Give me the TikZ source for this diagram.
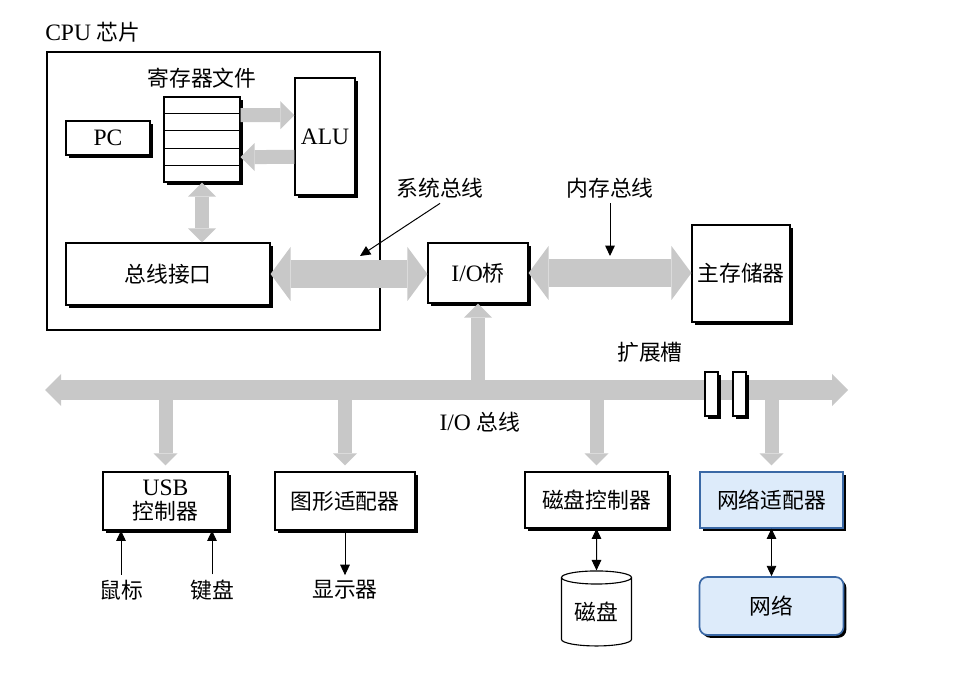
\documentclass[tikz,border=0pt]{standalone}
\usepackage{fontspec}
\setmainfont{Liberation Serif}[Scale=1.08]
\newfontfamily\cjk{Noto Sans CJK SC}
\usetikzlibrary{arrows.meta,shapes.geometric,shadows,calc}

\definecolor{busgray}{RGB}{200,200,200}
\definecolor{netfill}{RGB}{221,235,250}
\definecolor{netline}{RGB}{58,104,165}

\tikzset{
  box/.style={draw, line width=0.8pt, fill=white, inner sep=0pt,
    drop shadow={shadow xshift=0.7mm, shadow yshift=-0.7mm, fill=black, opacity=1}},
  arr/.style={line width=0.7pt, -{Triangle[length=2.6mm,width=2.4mm]}},
  darr/.style={line width=0.7pt, {Triangle[length=2.6mm,width=2.4mm]}-{Triangle[length=2.6mm,width=2.4mm]}},
  fatbus/.style={draw=busgray, line width=7mm,
    {Triangle[width=13.5mm,length=5mm,line width=0pt]}-{Triangle[width=13.5mm,length=5mm,line width=0pt]}},
  thinbus/.style={draw=busgray, line width=3.5mm,
    -{Triangle[width=7mm,length=3.5mm,line width=0pt]}},
  thinbus2/.style={draw=busgray, line width=3.5mm,
    {Triangle[width=7mm,length=3.5mm,line width=0pt]}-{Triangle[width=7mm,length=3.5mm,line width=0pt]}},
  iobus/.style={draw=busgray, line width=5mm,
    {Triangle[width=8mm,length=4mm,line width=0pt]}-{Triangle[width=8mm,length=4mm,line width=0pt]}},
  branch/.style={draw=busgray, line width=3.5mm, shorten >=1.5mm,
    -{Triangle[width=6mm,length=3mm,line width=0pt]}},
  netbox/.style={box, fill=netfill, draw=netline}
}

\begin{document}
\begin{tikzpicture}[x=0.25mm, y=-0.25mm,
  every node/.style={font=\fontsize{15.5}{18}\selectfont}]
\useasboundingbox (0,0) rectangle (973,676);

% CPU chip
\node[draw, line width=1pt, minimum width=83.25mm, minimum height=69.5mm] (cpu) at (213.5,191) {};
\node[anchor=west, inner sep=0pt] (cpulbl) at (45,32) {CPU {\cjk 芯片}};

\node (reglbl) at (202,78) {\cjk 寄存器文件};
\node[box, minimum width=19mm, minimum height=21.25mm] (reg) at (202,139.5) {};
\foreach \i in {1,...,4}
  \draw[line width=0.8pt] ($(reg.north west)!\i/5!(reg.south west)$) -- ($(reg.north east)!\i/5!(reg.south east)$);

\node[box, minimum width=21mm, minimum height=8.5mm] (pc) at (108,138) {PC};
\node[box, minimum width=15mm, minimum height=29.25mm] (alu) at (325,136.5) {ALU};
\node[box, minimum width=51mm, minimum height=15.5mm] (bi) at (168,274) {\cjk 总线接口};

\draw[thinbus] ([yshift=6.1mm]reg.east) -- ([yshift=5.3mm]alu.west);
\draw[thinbus] ([yshift=-5.1mm]alu.west) -- ([yshift=-4.4mm]reg.east);
\draw[thinbus2] (reg.south) -- (reg.south |- bi.north);

% bridge and memory
\node[box, minimum width=25mm, minimum height=15mm] (bridge) at (478,273) {I/O{\cjk 桥}};
\node[box, minimum width=24.5mm, minimum height=24.25mm] (mem) at (741,273.5) {\cjk 主存储器};

\draw[fatbus] (bi.east) -- (bi.east -| bridge.west);
\draw[fatbus] (bridge.east) -- (bridge.east -| mem.west);

\node (sb) at (440,188) {\cjk 系统总线};
\node (mb) at (610,188) {\cjk 内存总线};
\coordinate (sbtip) at (360,256);
\coordinate (mbtip) at (610,256);
\draw[arr] (sb.south) -- (sbtip);
\draw[arr] (mb.south) -- (mbtip);

% I/O bus
\coordinate (busL) at (45,390);
\coordinate (busR) at (848,390);
\coordinate (iob) at (478,390);
\draw[iobus] (busL) -- (busR);
\draw[thinbus] (iob) -- (bridge.south);

\node[box, minimum width=3.25mm, minimum height=11mm] (slot1) at (711.5,394) {};
\node[box, minimum width=3.25mm, minimum height=11mm] (slot2) at (739.5,394) {};
\node (slotlbl) at (650,352) {\cjk 扩展槽};
\node (iolbl) at (480,422) {I/O {\cjk 总线}};

% devices
\node[box, minimum width=31.25mm, minimum height=14.5mm, align=center] (usb) at (165.5,501) {USB\\[-1pt]{\cjk 控制器}};
\node[box, minimum width=35mm, minimum height=14.5mm] (gfx) at (345,501) {\cjk 图形适配器};
\node[box, minimum width=35.75mm, minimum height=14mm] (dc) at (596.5,500) {\cjk 磁盘控制器};
\node[netbox, minimum width=35.75mm, minimum height=14mm] (na) at (771.5,500) {\cjk 网络适配器};

\draw[branch] (usb.north |- busL) -- (usb.north);
\draw[branch] (gfx.north |- busL) -- (gfx.north);
\draw[branch] (dc.north |- busL) -- (dc.north);
\draw[branch] (na.north |- busL) -- (na.north);

\node (mouse) at (121,590) {\cjk 鼠标};
\node (kbd) at (212,590) {\cjk 键盘};
\node (disp) at (345,590) {\cjk 显示器};
\draw[arr] (mouse) -- (mouse |- usb.south);
\draw[arr] (kbd) -- (kbd |- usb.south);
\draw[arr] (gfx.south) -- (disp.north);

\node[draw, line width=0.8pt, cylinder, shape border rotate=90, aspect=0.3,
  minimum width=17.5mm, minimum height=18.75mm, inner sep=0pt] (disk) at (596.5,612) {\cjk 磁盘};
\node[netbox, rounded corners=2mm, line width=1.2pt, minimum width=36mm, minimum height=14.5mm] (net) at (771.5,606) {\cjk 网络};

\draw[darr] (dc.south) -- (disk.north);
\draw[darr] (na.south) -- (net.north);

\end{tikzpicture}
\end{document}
